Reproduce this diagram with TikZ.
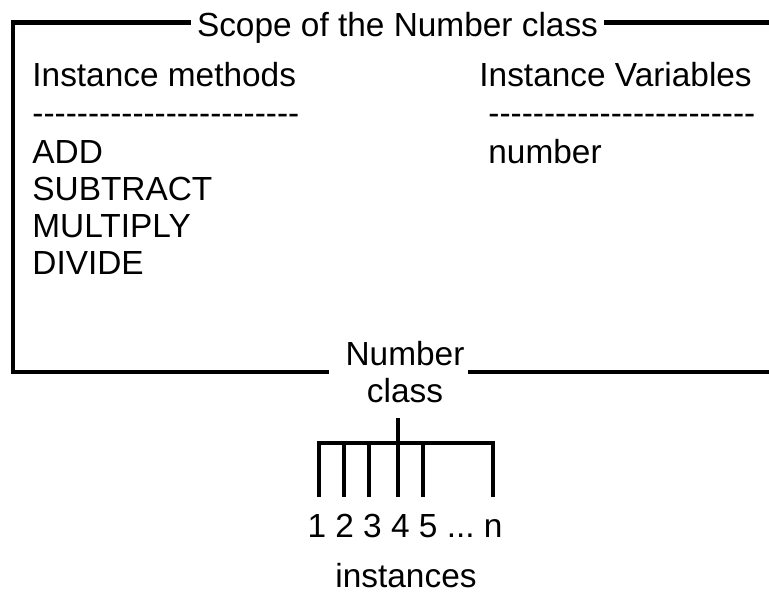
\documentclass[tikz,border=0pt]{standalone}
\usepackage{fontspec}
\setmainfont{Liberation Sans}
\newcommand{\dashrow}{\foreach \k in {1,...,24}{-\kern0pt}}

\begin{document}
\begin{tikzpicture}[x=0.5pt,y=-0.5pt,font=\fontsize{16.7}{18.3}\selectfont,
   txt/.style={inner sep=0pt,anchor=base west},
   mid/.style={inner sep=0pt,anchor=base},
   frame/.style={line width=2.4pt},
   tree/.style={line width=2.3pt}]
   \useasboundingbox (0,0) rectangle (769,591);

   % scope of the class
   \node[mid,inner xsep=3pt] (scope) at (397.5,36) {Scope of the Number class};
   \node[txt] (meth) at (32,86) {Instance methods};
   \node[txt] (mline) at (32,124) {\dashrow};
   \node[txt] (add) at (32,163) {ADD};
   \node[txt] (sub) at (32,200) {SUBTRACT};
   \node[txt] (mul) at (32,237) {MULTIPLY};
   \node[txt] (div) at (32,274) {DIVIDE};
   \node[txt] (vars) at (479,86) {Instance Variables};
   \node[txt] (vline) at (488,124) {\dashrow};
   \node[txt] (num) at (488,163) {number};
   \node[mid,align=center] (cls) at (405,402) {Number\\class};

   \coordinate (tl) at (13,22.5);
   \coordinate (tr) at (769,22.5);
   \coordinate (bl) at (13,372);
   \coordinate (br) at (769,372);
   \coordinate (nl) at (329,372);
   \coordinate (nr) at (468,372);

   \draw[frame] (scope.west |- tl) -- (tl) -- (bl) -- (nl);
   \draw[frame] (scope.east |- tl) -- (tr);
   \draw[frame] (nr) -- (br);

   % instances
   \coordinate (root) at (398,418);
   \coordinate (hub) at (398,443);
   \foreach \x [count=\i] in {319,344,369,398,423,493}
      \coordinate (leg\i) at (\x,497);
   \node[mid] (ids) at (405,537) {1 2 3 4 5 ...\ n};
   \node[mid] (inst) at (406,587) {instances};

   \draw[tree] (root) -- (hub);
   \draw[tree] (leg1) -- (leg1 |- hub) -- (leg6 |- hub) -- (leg6);
   \foreach \i in {2,...,5}
      \draw[tree] (leg\i |- hub) -- (leg\i);
\end{tikzpicture}
\end{document}
